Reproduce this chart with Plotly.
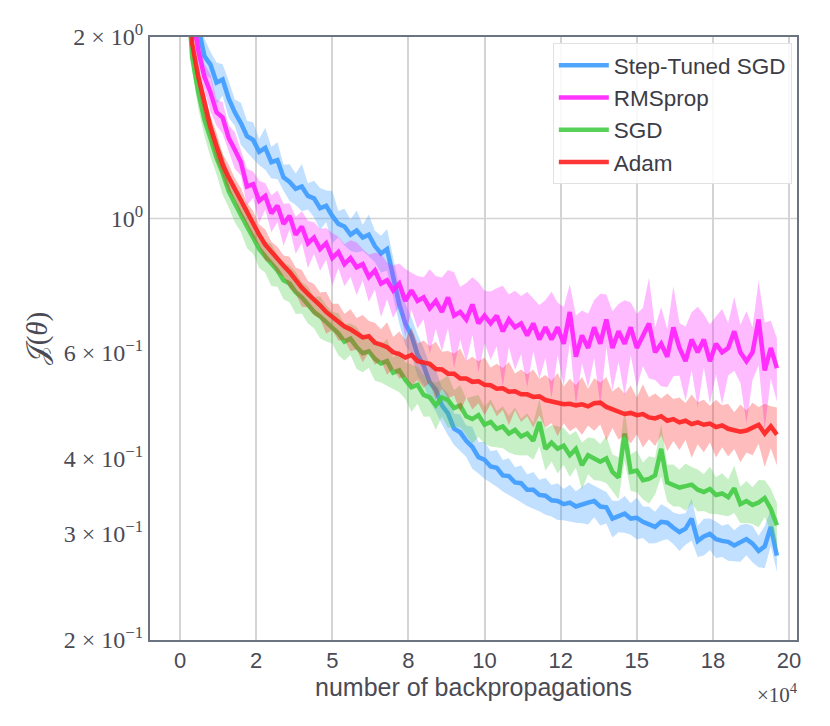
import plotly.graph_objects as go

# number of backpropagations (sampled every 2000)
steps = [2000 * (i + 1) for i in range(98)]

# mean loss per optimiser
step_tuned_mean = [
    3.2, 2.6, 2.08, 1.86, 1.80, 1.68, 1.70, 1.58, 1.50, 1.44,
    1.37, 1.35, 1.29, 1.31, 1.24, 1.25, 1.17, 1.15, 1.12, 1.13,
    1.09, 1.08, 1.04, 1.05, 1.01, 0.98, 0.97, 0.94, 0.955, 0.93,
    0.94, 0.90, 0.875, 0.89, 0.80, 0.72, 0.67, 0.64, 0.595, 0.57,
    0.535, 0.52, 0.49, 0.475, 0.448, 0.442, 0.428, 0.418, 0.402, 0.398,
    0.388, 0.386, 0.375, 0.374, 0.365, 0.364, 0.355, 0.355, 0.348, 0.347,
    0.341, 0.340, 0.336, 0.338, 0.333, 0.336, 0.338, 0.340, 0.333, 0.332,
    0.318, 0.321, 0.324, 0.318, 0.319, 0.314, 0.311, 0.308, 0.314, 0.313,
    0.307, 0.302, 0.306, 0.318, 0.292, 0.297, 0.300, 0.294, 0.292, 0.291,
    0.287, 0.290, 0.294, 0.289, 0.281, 0.286, 0.308, 0.276,
]
rmsprop_mean = [
    2.9, 2.2, 1.90, 1.72, 1.62, 1.50, 1.47, 1.36, 1.30, 1.24,
    1.13, 1.14, 1.07, 1.09, 1.02, 1.05, 0.98, 1.01, 0.94, 0.97,
    0.91, 0.93, 0.89, 0.91, 0.86, 0.88, 0.84, 0.86, 0.83, 0.84,
    0.80, 0.82, 0.78, 0.79, 0.76, 0.78, 0.73, 0.76, 0.73, 0.74,
    0.71, 0.73, 0.70, 0.74, 0.69, 0.70, 0.68, 0.72, 0.67, 0.69,
    0.67, 0.69, 0.65, 0.68, 0.66, 0.67, 0.64, 0.67, 0.63, 0.66,
    0.63, 0.66, 0.62, 0.70, 0.59, 0.64, 0.61, 0.66, 0.62, 0.68,
    0.61, 0.65, 0.62, 0.66, 0.61, 0.64, 0.67, 0.60, 0.62, 0.59,
    0.66, 0.61, 0.58, 0.63, 0.60, 0.63, 0.58, 0.62, 0.60, 0.61,
    0.65, 0.60, 0.58, 0.60, 0.68, 0.56, 0.61, 0.565,
]
sgd_mean = [
    2.6, 1.85, 1.62, 1.46, 1.36, 1.26, 1.19, 1.11, 1.06, 1.01,
    0.97, 0.93, 0.89, 0.865, 0.84, 0.82, 0.79, 0.78, 0.755, 0.74,
    0.72, 0.70, 0.688, 0.672, 0.66, 0.645, 0.625, 0.632, 0.612, 0.598,
    0.602, 0.585, 0.575, 0.58, 0.555, 0.56, 0.54, 0.525, 0.53, 0.51,
    0.505, 0.49, 0.505, 0.50, 0.485, 0.49, 0.47, 0.465, 0.472, 0.455,
    0.46, 0.448, 0.452, 0.44, 0.446, 0.435, 0.44, 0.428, 0.46, 0.415,
    0.425, 0.415, 0.42, 0.405, 0.415, 0.39, 0.405, 0.40, 0.395, 0.40,
    0.38, 0.372, 0.44, 0.38, 0.382, 0.368, 0.37, 0.375, 0.415, 0.365,
    0.362, 0.358, 0.36, 0.362, 0.355, 0.352, 0.356, 0.348, 0.35, 0.345,
    0.357, 0.336, 0.34, 0.335, 0.338, 0.344, 0.33, 0.31,
]
adam_mean = [
    2.7, 1.95, 1.72, 1.55, 1.42, 1.32, 1.23, 1.17, 1.12, 1.07,
    1.02, 0.98, 0.94, 0.905, 0.88, 0.855, 0.835, 0.815, 0.79, 0.768,
    0.75, 0.735, 0.718, 0.70, 0.688, 0.675, 0.662, 0.655, 0.645, 0.635,
    0.638, 0.622, 0.618, 0.612, 0.600, 0.596, 0.588, 0.594, 0.580, 0.576,
    0.574, 0.563, 0.562, 0.553, 0.553, 0.543, 0.543, 0.536, 0.537, 0.530,
    0.529, 0.522, 0.523, 0.516, 0.517, 0.511, 0.511, 0.506, 0.507, 0.500,
    0.498, 0.495, 0.492, 0.493, 0.490, 0.492, 0.488, 0.494, 0.495, 0.487,
    0.483, 0.478, 0.474, 0.476, 0.472, 0.474, 0.468, 0.466, 0.470, 0.462,
    0.465, 0.459, 0.462, 0.456, 0.459, 0.455, 0.457, 0.451, 0.454, 0.448,
    0.446, 0.443, 0.445, 0.450, 0.455, 0.440, 0.452, 0.438,
]

# relative spread of the shaded bands
step_tuned_spread = [
    0.05, 0.05, 0.06, 0.07, 0.05, 0.08, 0.06, 0.07, 0.05, 0.08,
    0.06, 0.07, 0.05, 0.08, 0.06, 0.07, 0.05, 0.07, 0.06, 0.09,
    0.05, 0.07, 0.08, 0.06, 0.10, 0.05, 0.07, 0.06, 0.08, 0.05,
    0.08, 0.06, 0.07, 0.08, 0.07, 0.07, 0.08, 0.07, 0.08, 0.07,
    0.07, 0.08, 0.07, 0.08, 0.06, 0.07, 0.06, 0.08, 0.06, 0.07,
    0.06, 0.07, 0.06, 0.07, 0.06, 0.07, 0.06, 0.07, 0.06, 0.07,
    0.06, 0.07, 0.06, 0.07, 0.06, 0.07, 0.08, 0.06, 0.07, 0.06,
    0.07, 0.06, 0.07, 0.06, 0.08, 0.06, 0.07, 0.06, 0.07, 0.06,
    0.06, 0.07, 0.06, 0.08, 0.06, 0.07, 0.06, 0.07, 0.06, 0.07,
    0.06, 0.07, 0.06, 0.07, 0.06, 0.08, 0.07, 0.06,
]
rmsprop_spread = [
    0.05, 0.05, 0.06, 0.05, 0.07, 0.05, 0.06, 0.05, 0.07, 0.05,
    0.07, 0.05, 0.08, 0.05, 0.07, 0.06, 0.08, 0.05, 0.07, 0.06,
    0.09, 0.06, 0.08, 0.06, 0.10, 0.06, 0.08, 0.07, 0.10, 0.06,
    0.09, 0.07, 0.12, 0.07, 0.10, 0.08, 0.13, 0.07, 0.10, 0.08,
    0.16, 0.10, 0.14, 0.11, 0.18, 0.10, 0.15, 0.11, 0.17, 0.10,
    0.13, 0.11, 0.19, 0.10, 0.15, 0.11, 0.18, 0.10, 0.14, 0.11,
    0.20, 0.10, 0.15, 0.11, 0.17, 0.10, 0.14, 0.11, 0.21, 0.10,
    0.15, 0.11, 0.18, 0.10, 0.14, 0.11, 0.19, 0.10, 0.15, 0.11,
    0.17, 0.10, 0.14, 0.11, 0.19, 0.10, 0.15, 0.11, 0.18, 0.10,
    0.14, 0.11, 0.21, 0.10, 0.16, 0.20, 0.11, 0.12,
]
sgd_spread = [
    0.05, 0.05, 0.06, 0.06, 0.07, 0.06, 0.08, 0.06, 0.07, 0.06,
    0.08, 0.06, 0.07, 0.06, 0.08, 0.06, 0.07, 0.07, 0.08, 0.06,
    0.07, 0.06, 0.08, 0.07, 0.06, 0.08, 0.07, 0.06, 0.08, 0.07,
    0.06, 0.08, 0.07, 0.09, 0.06, 0.08, 0.07, 0.09, 0.07, 0.08,
    0.07, 0.09, 0.07, 0.10, 0.07, 0.08, 0.07, 0.09, 0.08, 0.07,
    0.09, 0.07, 0.08, 0.07, 0.09, 0.07, 0.08, 0.07, 0.09, 0.08,
    0.07, 0.09, 0.07, 0.08, 0.07, 0.09, 0.07, 0.08, 0.07, 0.09,
    0.07, 0.08, 0.10, 0.07, 0.08, 0.07, 0.09, 0.07, 0.10, 0.07,
    0.08, 0.07, 0.09, 0.07, 0.08, 0.07, 0.09, 0.07, 0.08, 0.07,
    0.09, 0.07, 0.08, 0.07, 0.09, 0.07, 0.08, 0.09,
]
adam_spread = [
    0.04, 0.04, 0.04, 0.05, 0.04, 0.05, 0.04, 0.05, 0.04, 0.05,
    0.04, 0.05, 0.04, 0.06, 0.04, 0.05, 0.04, 0.06, 0.05, 0.07,
    0.05, 0.06, 0.05, 0.08, 0.05, 0.07, 0.05, 0.08, 0.06, 0.09,
    0.06, 0.08, 0.06, 0.10, 0.06, 0.09, 0.07, 0.11, 0.07, 0.09,
    0.07, 0.11, 0.07, 0.09, 0.08, 0.12, 0.07, 0.10, 0.08, 0.11,
    0.07, 0.10, 0.08, 0.12, 0.07, 0.10, 0.08, 0.11, 0.07, 0.10,
    0.08, 0.12, 0.07, 0.10, 0.08, 0.11, 0.07, 0.10, 0.08, 0.12,
    0.07, 0.10, 0.08, 0.11, 0.07, 0.12, 0.08, 0.10, 0.07, 0.11,
    0.08, 0.10, 0.07, 0.12, 0.08, 0.10, 0.07, 0.11, 0.08, 0.10,
    0.07, 0.11, 0.08, 0.10, 0.07, 0.12, 0.08, 0.11,
]

series = [
    ("Step-Tuned SGD", step_tuned_mean, step_tuned_spread, "#3d9cff", "rgba(61,156,255,0.32)"),
    ("RMSprop", rmsprop_mean, rmsprop_spread, "#ff1fff", "rgba(255,31,255,0.30)"),
    ("SGD", sgd_mean, sgd_spread, "#45cc45", "rgba(69,204,69,0.30)"),
    ("Adam", adam_mean, adam_spread, "#ff2020", "rgba(255,32,32,0.30)"),
]

x_tickvals = [0, 25000, 50000, 75000, 100000, 125000, 150000, 175000, 200000]
x_ticktext = ["0", "2", "5", "8", "10", "12", "15", "18", "20"]
y_tickvals = [0.2, 0.3, 0.4, 0.6, 1, 2]
y_ticktext = ["2 × 10<sup>−1</sup>", "3 × 10<sup>−1</sup>", "4 × 10<sup>−1</sup>",
              "6 × 10<sup>−1</sup>", "10<sup>0</sup>", "2 × 10<sup>0</sup>"]

fig = go.Figure()

for name, mean, spread, color, fill in series:
    upper = [m * (1 + s) for m, s in zip(mean, spread)]
    lower = [m * (1 - s) for m, s in zip(mean, spread)]
    fig.add_trace(go.Scatter(
        x=steps + steps[::-1], y=upper + lower[::-1],
        fill="toself", fillcolor=fill, line=dict(width=0),
        mode="lines", hoverinfo="skip", showlegend=False,
    ))
    fig.add_trace(go.Scatter(
        x=steps, y=mean, mode="lines", name=name,
        line=dict(color=color, width=4.5), opacity=0.9,
    ))

# horizontal grid only at the major decade
fig.add_shape(type="line", xref="paper", x0=0, x1=1, yref="y", y0=1, y1=1,
              line=dict(color="#d4d4d4", width=1.5), layer="below")

fig.add_annotation(text="×10<sup>4</sup>", xref="paper", yref="paper",
                   x=1.005, y=-0.088, xanchor="right", yanchor="middle", showarrow=False,
                   font=dict(family="Liberation Serif", size=21, color="#4a4a55"))

fig.update_layout(
    width=822, height=718,
    margin=dict(l=142, r=33, t=26, b=86),
    plot_bgcolor="white", paper_bgcolor="white",
    font=dict(family="Liberation Sans", color="#4a4a55", size=22),
    legend=dict(x=0.992, y=0.99, xanchor="right", yanchor="top", itemwidth=50,
                bgcolor="rgba(255,255,255,0.85)", bordercolor="#e2e2e2", borderwidth=1,
                font=dict(size=22.5, family="Liberation Sans", color="#3c3c46")),
)

fig.update_xaxes(
    range=[-9850, 202600], tickvals=x_tickvals, ticktext=x_ticktext,
    showgrid=True, gridcolor="#d4d4d4", gridwidth=1.5, zeroline=False,
    showline=True, mirror=True, linecolor="#6b7480", linewidth=2, ticks="",
    tickfont=dict(size=22),
    title=dict(text="number of backpropagations", font=dict(size=25), standoff=2),
)
fig.update_yaxes(
    type="log", range=[-0.69897, 0.30103], tickvals=y_tickvals, ticktext=y_ticktext,
    showgrid=False, zeroline=False,
    showline=True, mirror=True, linecolor="#6b7480", linewidth=2, ticks="",
    tickfont=dict(family="Liberation Serif", size=24),
    title=dict(text="𝒥(<i>θ</i>)", font=dict(family="Liberation Serif", size=29), standoff=8),
)

fig.write_html("out.html")
